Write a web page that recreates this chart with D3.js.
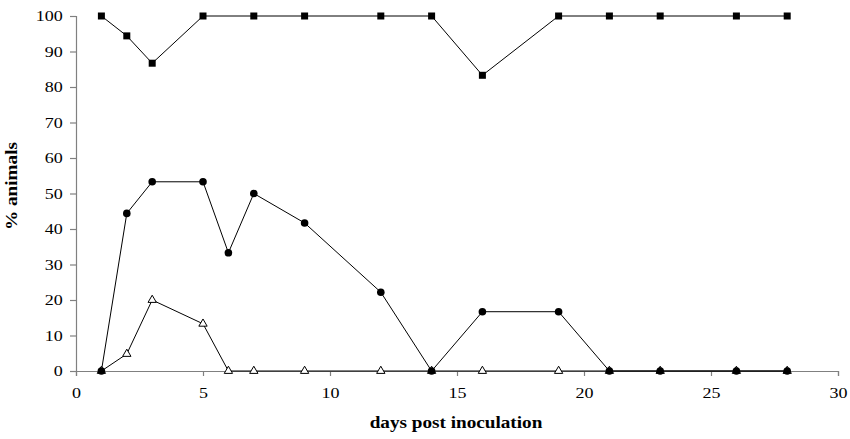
<!DOCTYPE html>
<html>
<head>
<meta charset="utf-8">
<script src="https://cdn.jsdelivr.net/npm/d3@7"></script>
<style>
  body { margin: 0; background: #fff; }
  svg { font-family: "Liberation Serif", "Times New Roman", serif; }
</style>
</head>
<body>
<div id="chart"></div>
<script>
"use strict";

var squareDays = [1, 2, 3, 5, 7, 9, 12, 14, 16, 19, 21, 23, 26, 28];
var squareVals = [100, 94.4, 86.7, 100, 100, 100, 100, 100, 83.3, 100, 100, 100, 100, 100];

var circleDays = [1, 2, 3, 5, 6, 7, 9, 12, 14, 16, 19, 21, 23, 26, 28];
var circleVals = [0, 44.4, 53.3, 53.3, 33.3, 50, 41.7, 22.2, 0, 16.7, 16.7, 0, 0, 0, 0];

var triangleDays = [1, 2, 3, 5, 6, 7, 9, 12, 14, 16, 19, 21, 23, 26, 28];
var triangleVals = [0, 4.8, 20, 13.3, 0, 0, 0, 0, 0, 0, 0, 0, 0, 0, 0];

var xTicks = [0, 5, 10, 15, 20, 25, 30];
var yTicks = [0, 10, 20, 30, 40, 50, 60, 70, 80, 90, 100];

var width = 850, height = 439;
var margin = { top: 16, right: 12, bottom: 68, left: 76 };
var stretch = 1.2; // the original text is drawn a bit wide

var svg = d3.select("#chart").append("svg")
    .attr("width", width)
    .attr("height", height);

var x = d3.scaleLinear().domain([0, 30]).range([margin.left, width - margin.right]);
var y = d3.scaleLinear().domain([0, 100]).range([height - margin.bottom, margin.top]);

// axes
var yAxis = svg.append("g")
    .attr("transform", "translate(" + margin.left + ",0)")
    .call(d3.axisLeft(y).tickValues(yTicks).tickSize(6).tickPadding(5));

var xAxis = svg.append("g")
    .attr("transform", "translate(0," + (height - margin.bottom) + ")")
    .call(d3.axisBottom(x).tickValues(xTicks).tickSize(5).tickPadding(11));

[xAxis, yAxis].forEach(function(a) {
    a.select(".domain").attr("stroke", "#808080").attr("stroke-width", 1.2);
    a.selectAll(".tick line").attr("stroke", "#808080").attr("stroke-width", 1.2);
    a.selectAll("text")
        .attr("font-size", 15)
        .attr("fill", "#000")
        .attr("font-family", "Liberation Serif, serif")
        .attr("transform", "scale(" + stretch + ",1)");
});

// axis titles
svg.append("text")
    .attr("transform", "translate(456,428) scale(" + stretch + ",1)")
    .attr("text-anchor", "middle")
    .attr("font-weight", "bold")
    .attr("font-size", 16)
    .text("days post inoculation");

svg.append("text")
    .attr("transform", "translate(17,186) rotate(-90) scale(" + stretch + ",1)")
    .attr("text-anchor", "middle")
    .attr("font-weight", "bold")
    .attr("font-size", 16)
    .text("% animals");

function toPoints(days, vals) {
    return days.map(function(d, i) { return { day: d, v: vals[i] }; });
}

var line = d3.line()
    .x(function(d) { return x(d.day); })
    .y(function(d) { return y(d.v); });

var tri = toPoints(triangleDays, triangleVals);
var circ = toPoints(circleDays, circleVals);
var sq = toPoints(squareDays, squareVals);

[tri, circ, sq].forEach(function(pts) {
    svg.append("path")
        .datum(pts)
        .attr("fill", "none")
        .attr("stroke", "#000")
        .attr("stroke-width", 1)
        .attr("d", line);
});

// triangles (open)
svg.selectAll(".tri")
    .data(tri)
    .enter().append("path")
    .attr("class", "tri")
    .attr("d", d3.symbol().type(d3.symbolTriangle).size(30))
    .attr("transform", function(d) { return "translate(" + x(d.day) + "," + y(d.v) + ")"; })
    .attr("fill", "#fff")
    .attr("stroke", "#000")
    .attr("stroke-width", 1);

// circles (filled)
svg.selectAll(".circ")
    .data(circ)
    .enter().append("circle")
    .attr("class", "circ")
    .attr("cx", function(d) { return x(d.day); })
    .attr("cy", function(d) { return y(d.v); })
    .attr("r", 3.8)
    .attr("fill", "#000");

// squares (filled)
svg.selectAll(".sq")
    .data(sq)
    .enter().append("rect")
    .attr("class", "sq")
    .attr("x", function(d) { return x(d.day) - 3.5; })
    .attr("y", function(d) { return y(d.v) - 3.5; })
    .attr("width", 7)
    .attr("height", 7)
    .attr("fill", "#000");
</script>
</body>
</html>
